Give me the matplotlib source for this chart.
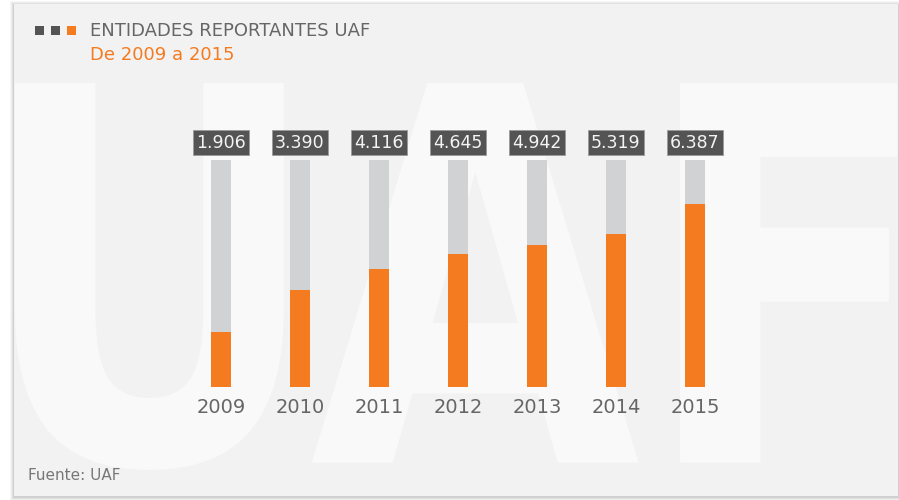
#!/usr/bin/env python3
"""Entidades reportantes UAF, 2009-2015: progress-style bar chart."""
import matplotlib
matplotlib.use('Agg')
import matplotlib.pyplot as plt
from matplotlib.patches import Rectangle, PathPatch
from matplotlib.textpath import TextPath
from matplotlib.font_manager import FontProperties
from matplotlib.transforms import Affine2D

years = ['2009', '2010', '2011', '2012', '2013', '2014', '2015']
values = [1906, 3390, 4116, 4645, 4942, 5319, 6387]
value_labels = [f"{v:,}".replace(',', '.') for v in values]

TITLE = 'ENTIDADES REPORTANTES UAF'
SUBTITLE = 'De 2009 a 2015'
SOURCE = 'Fuente: UAF'

ORANGE = '#f47b20'
TRACK = '#d1d2d4'
DARK = '#545454'
CARD = '#f2f2f2'
WATERMARK = '#f9f9f9'
SCALE_MAX = 7920

W, H = 899, 500
fig = plt.figure(figsize=(W / 100, H / 100), dpi=100)
fig.patch.set_facecolor('white')

# background layer in pixel coordinates
bg = fig.add_axes([0, 0, 1, 1])
bg.set_xlim(0, W)
bg.set_ylim(H, 0)
bg.axis('off')

# soft shadow around the card
for k, a in [(4, 0.03), (3, 0.04), (2, 0.05), (1, 0.07)]:
    bg.add_patch(Rectangle((14 - k, 4 - k + 1), 884 + 2 * k, 492 + 2 * k,
                           facecolor='#000000', alpha=a, edgecolor='none'))
card = Rectangle((14, 4), 884, 492, facecolor=CARD, edgecolor='none')
bg.add_patch(card)

# big "UAF" watermark stretched over the card
tp = TextPath((0, 0), 'UAF', size=100,
              prop=FontProperties(family='DejaVu Sans', weight='bold'))
bb = tp.get_extents()
sx = (897 - 15) / bb.width
sy = (470 - 83) / bb.height
tr = Affine2D().translate(-bb.x0, -bb.y0).scale(sx, -sy).translate(15, 470)
wm = PathPatch(tp, facecolor=WATERMARK, edgecolor='none',
               transform=tr + bg.transData)
bg.add_patch(wm)
wm.set_clip_path(card)

# header
for x0, c in zip([35, 51, 67], [DARK, DARK, ORANGE]):
    bg.add_patch(Rectangle((x0, 26), 8.5, 8.5, facecolor=c, edgecolor='none'))
bg.text(90, 31, TITLE, fontsize=13, color='#666666', va='center', ha='left')
bg.text(90, 55, SUBTITLE, fontsize=13, color=ORANGE, va='center', ha='left')
bg.text(28, 476, SOURCE, fontsize=11, color='#777777', va='center', ha='left')

# ── bars ────────────────────────────────────────────────────────────
x0_px, step = 221, 79
left = (x0_px - step / 2) / W
width = (step * len(years)) / W
bottom = 1 - 386.7 / H
height = (386.7 - 160) / H
ax = fig.add_axes([left, bottom, width, height])
ax.set_facecolor('none')
ax.set_xlim(-0.5, len(years) - 0.5)
ax.set_ylim(0, SCALE_MAX)
ax.axis('off')

x = list(range(len(years)))
bw = 20 / step
ax.bar(x, [SCALE_MAX] * len(years), width=bw, color=TRACK, zorder=1)
ax.bar(x, values, width=bw, color=ORANGE, zorder=2)

for i, (lab, yr) in enumerate(zip(value_labels, years)):
    ax.annotate(lab, xy=(i, SCALE_MAX), xytext=(0, 12.5), textcoords='offset points',
                ha='center', va='center', fontsize=12.5, color='#f4f4f4',
                bbox=dict(boxstyle='square,pad=0.2', facecolor=DARK,
                          edgecolor='#9a9a9a', linewidth=0.6),
                annotation_clip=False)
    ax.annotate(yr, xy=(i, 0), xytext=(0, -14.8), textcoords='offset points',
                ha='center', va='center', fontsize=14, color='#666666',
                annotation_clip=False)

fig.savefig('out.png', dpi=100, facecolor=fig.get_facecolor())
plt.close(fig)
